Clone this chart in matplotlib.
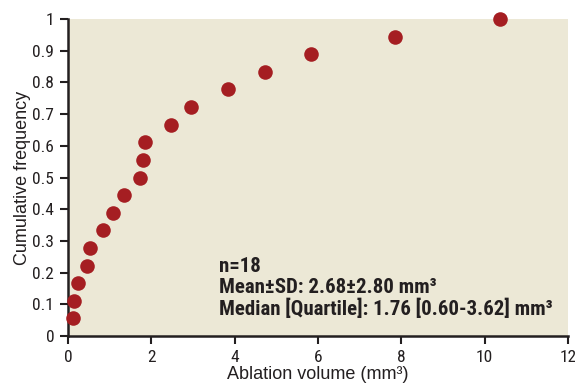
import matplotlib.pyplot as plt

narrow = ['Roboto Condensed', 'Liberation Sans Narrow', 'Liberation Sans', 'DejaVu Sans']
plt.rcParams['font.family'] = ['Liberation Sans', 'DejaVu Sans']

# ablation volumes (mm3), sorted, and cumulative frequency
volume = [0.11, 0.14, 0.23, 0.45, 0.52, 0.83, 1.07, 1.34, 1.73,
          1.81, 1.84, 2.48, 2.94, 3.84, 4.73, 5.83, 7.84, 10.36]
n = len(volume)
cum_freq = [(i + 1) / n for i in range(n)]

x_ticks = [0, 2, 4, 6, 8, 10, 12]
y_ticks = [0, 0.1, 0.2, 0.3, 0.4, 0.5, 0.6, 0.7, 0.8, 0.9, 1]
y_labels = ['0', '0.1', '0.2', '0.3', '0.4', '0.5', '0.6', '0.7', '0.8', '0.9', '1']

fig = plt.figure(figsize=(5.75, 3.86), dpi=100)
ax = fig.add_axes([0.1183, 0.1295, 0.8695, 0.8213])
ax.set_facecolor('#ECE8D6')

ax.scatter(volume, cum_freq, s=110, color='#A51E22', zorder=3, clip_on=False,
           linewidths=0)

ax.set_xlim(0, 12)
ax.set_ylim(0, 1)
ax.set_xticks(x_ticks)
ax.set_yticks(y_ticks)
ax.set_yticklabels(y_labels)

for s in ['top', 'right']:
    ax.spines[s].set_visible(False)
for s in ['left', 'bottom']:
    ax.spines[s].set_linewidth(1.8)
    ax.spines[s].set_color('#231F20')

ax.tick_params(direction='out', length=6, width=1.5, color='#231F20',
               labelsize=12.5, labelcolor='#231F20', pad=4)
for lab in ax.get_xticklabels() + ax.get_yticklabels():
    lab.set_fontfamily(narrow)

ax.set_xlabel('Ablation volume (mm³)', fontsize=13, color='#231F20', labelpad=1)
ax.set_ylabel('Cumulative frequency', fontsize=13, color='#231F20', labelpad=1)

ax.text(3.62, 0.25, 'n=18\nMean±SD: 2.68±2.80 mm³\nMedian [Quartile]: 1.76 [0.60-3.62] mm³',
        fontsize=15, fontweight='bold', family=narrow, color='#231F20',
        va='top', ha='left', linespacing=1.13)

fig.savefig('out.png', dpi=100)
